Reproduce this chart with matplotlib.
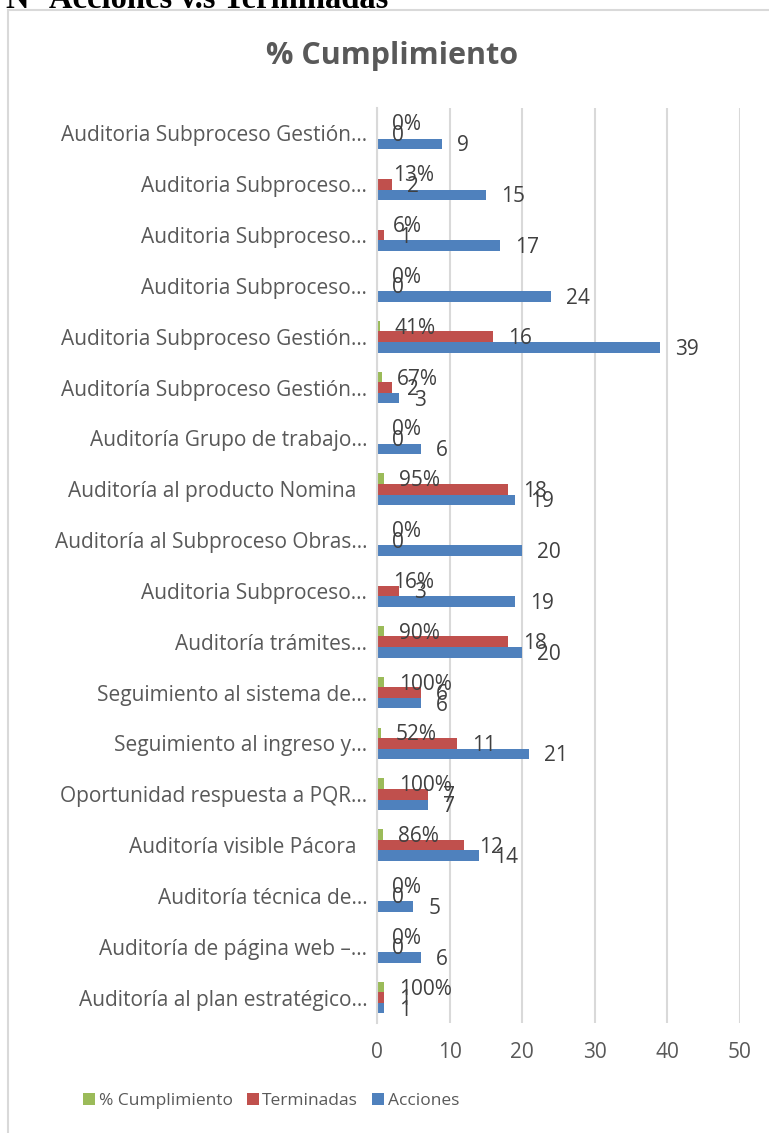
import matplotlib
matplotlib.use("Agg")
import matplotlib.pyplot as plt
from matplotlib.patches import Rectangle, Patch
import matplotlib.transforms as mtransforms

categories = [
    "Auditoria Subproceso Gestión…",
    "Auditoria Subproceso…",
    "Auditoria Subproceso…",
    "Auditoria Subproceso…",
    "Auditoria Subproceso Gestión…",
    "Auditoría Subproceso Gestión…",
    "Auditoría Grupo de trabajo…",
    "Auditoría al producto Nomina  ",
    "Auditoría al Subproceso Obras…",
    "Auditoria Subproceso…",
    "Auditoría trámites…",
    "Seguimiento al sistema de…",
    "Seguimiento al ingreso y…",
    "Oportunidad respuesta a PQR…",
    "Auditoría visible Pácora  ",
    "Auditoría técnica de…",
    "Auditoría de página web –…",
    "Auditoría al plan estratégico…",
]
acciones = [9, 15, 17, 24, 39, 3, 6, 19, 20, 19, 20, 6, 21, 7, 14, 5, 6, 1]
terminadas = [0, 2, 1, 0, 16, 2, 0, 18, 0, 3, 18, 6, 11, 7, 12, 0, 0, 1]
cumplimiento = [0.0, 0.13, 0.06, 0.0, 0.41, 0.67, 0.0, 0.95, 0.0, 0.16, 0.90, 1.0, 0.52, 1.0, 0.86, 0.0, 0.0, 1.0]
xticks = [0, 10, 20, 30, 40, 50]

C_GREEN = "#9BBB59"
C_RED = "#C0504D"
C_BLUE = "#4F81BD"
TXT = "#595959"
LBL = "#404040"
GRID = "#D9D9D9"
FONT = "Open Sans"
FS = 15

W, H = 769, 1133
fig = plt.figure(figsize=(W / 100, H / 100), dpi=100)
fig.patch.set_facecolor("white")

# chart frame
fig.add_artist(Rectangle((8 / W, -0.05), 1.0, 1 - 10 / H + 0.05, transform=fig.transFigure,
                         fill=False, edgecolor=GRID, linewidth=1.5))

# document heading (cropped at top)
fig.text(388 / W, 1 - 8 / H, "N° Acciones v.s Terminadas", ha="right", va="baseline",
         fontsize=23.5, fontweight="bold", family="Liberation Serif", color="black")

ax = fig.add_axes([377 / W, 1 - 1023 / H, (740 - 377) / W, (1023 - 108) / H])
n = len(categories)
ys = list(range(n))
h = 0.207
yg = [y - h for y in ys]
yr = ys
yb = [y + h for y in ys]
ax.barh(yg, cumplimiento, height=h, color=C_GREEN, label="% Cumplimiento", zorder=3)
ax.barh(yr, terminadas, height=h, color=C_RED, label="Terminadas", zorder=3)
ax.barh(yb, acciones, height=h, color=C_BLUE, label="Acciones", zorder=3)

ax.set_xlim(0, 50)
ax.set_ylim(n - 0.5, -0.5)
ax.set_xticks(xticks)
ax.set_xticklabels([str(t) for t in xticks], family=FONT, fontsize=FS, color=TXT)
ax.set_yticks(ys)
ax.set_yticklabels(categories, family=FONT, fontsize=FS, color=TXT)
ax.tick_params(axis="both", length=0)
ax.tick_params(axis="x", pad=14)
ax.tick_params(axis="y", pad=7)
ax.grid(axis="x", color=GRID, linewidth=1.5, zorder=0)
for s in ["top", "right", "bottom"]:
    ax.spines[s].set_visible(False)
ax.spines["left"].set_color(GRID)
ax.spines["left"].set_linewidth(1.5)
ax.spines["left"].set_zorder(4)

off = mtransforms.ScaledTranslation(15 / 100, 0, fig.dpi_scale_trans)
tr = ax.transData + off
for i in range(n):
    ax.text(cumplimiento[i], yg[i] + 0.04, f"{round(cumplimiento[i] * 100)}%", transform=tr,
            ha="left", va="center", family=FONT, fontsize=FS, color=LBL, zorder=5)
    ax.text(terminadas[i], yr[i] + 0.04, f"{terminadas[i]}", transform=tr,
            ha="left", va="center", family=FONT, fontsize=FS, color=LBL, zorder=5)
    ax.text(acciones[i], yb[i] + 0.04, f"{acciones[i]}", transform=tr,
            ha="left", va="center", family=FONT, fontsize=FS, color=LBL, zorder=5)

fig.text(392 / W, 1 - 56 / H, "% Cumplimiento", ha="center", va="center",
         family=FONT, fontweight="bold", fontsize=22, color=TXT)

handles = [Patch(facecolor=C_GREEN), Patch(facecolor=C_RED), Patch(facecolor=C_BLUE)]
fig.legend(handles, ["% Cumplimiento", "Terminadas", "Acciones"], loc="center",
           bbox_to_anchor=(271 / W, 1 - 1101 / H), ncol=3, frameon=False,
           prop={"family": FONT, "size": 12.5}, labelcolor=TXT,
           handlelength=0.7, handleheight=0.7, handletextpad=0.2, columnspacing=0.8)

fig.savefig("out.png", dpi=100)
